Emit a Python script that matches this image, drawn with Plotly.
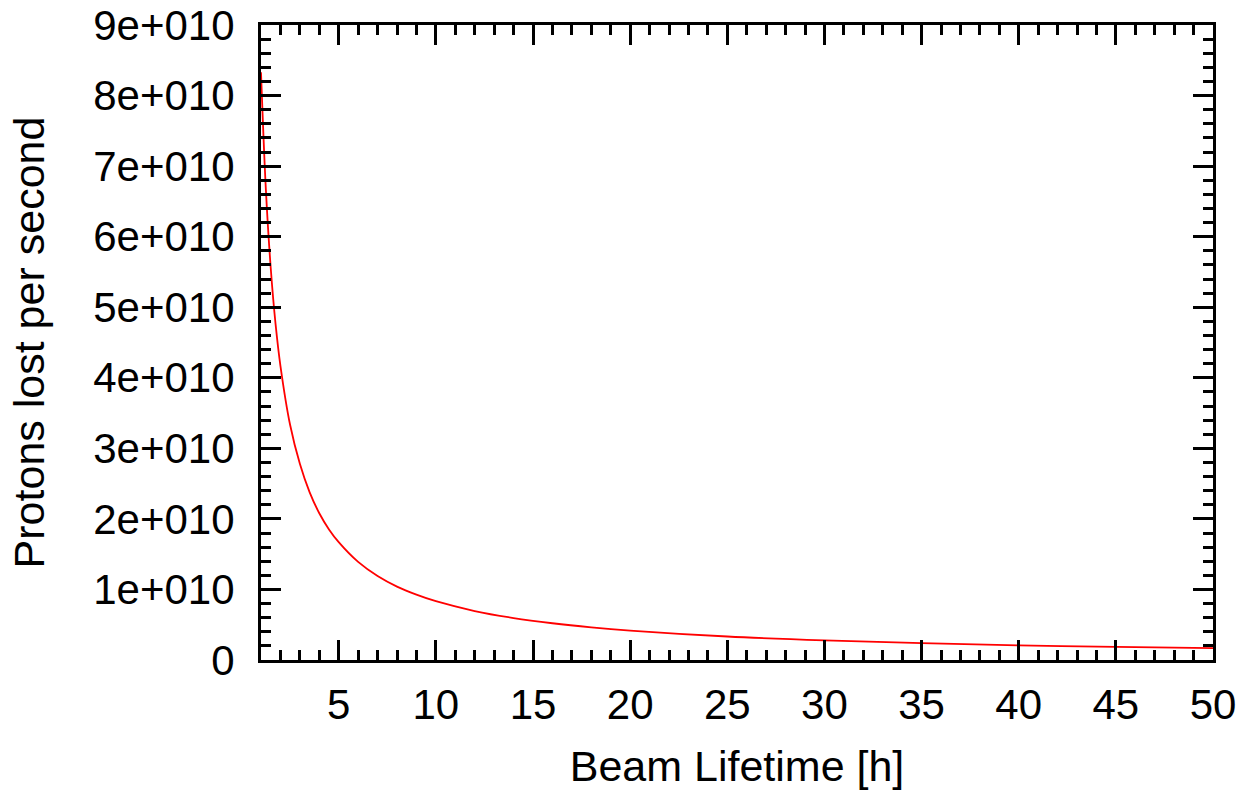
import plotly.graph_objects as go

# Beam lifetime [h] and protons lost per second
lifetime_h = [1, 1.25, 1.5, 1.75, 2, 2.5, 3, 3.5, 4, 4.5, 5, 6, 7, 8, 9, 10,
              12, 14, 16, 18, 20, 25, 30, 35, 40, 45, 50]
protons_lost = [8.33e10, 6.67e10, 5.56e10, 4.76e10, 4.17e10, 3.33e10, 2.78e10,
                2.38e10, 2.08e10, 1.85e10, 1.67e10, 1.39e10, 1.19e10, 1.04e10,
                9.26e9, 8.33e9, 6.94e9, 5.95e9, 5.21e9, 4.63e9, 4.17e9, 3.33e9,
                2.78e9, 2.38e9, 2.08e9, 1.85e9, 1.67e9]

x_tickvals = [5, 10, 15, 20, 25, 30, 35, 40, 45, 50]
y_tickvals = [0, 1e10, 2e10, 3e10, 4e10, 5e10, 6e10, 7e10, 8e10, 9e10]
y_ticktext = ["0", "1e+010", "2e+010", "3e+010", "4e+010", "5e+010",
              "6e+010", "7e+010", "8e+010", "9e+010"]

FONT = "Liberation Sans, Arial, sans-serif"

fig = go.Figure()
fig.add_trace(go.Scatter(
    x=lifetime_h, y=protons_lost, mode="lines",
    line=dict(color="#ff0000", width=1.8, shape="spline"),
    showlegend=False, hoverinfo="skip",
))

axis_common = dict(
    showline=True, linecolor="black", linewidth=3, mirror="ticks",
    ticks="inside", ticklen=20, tickwidth=2.5, tickcolor="black",
    showgrid=False, zeroline=False,
    tickfont=dict(family=FONT, size=42, color="black"),
)

fig.update_xaxes(
    range=[1, 50], tickmode="array", tickvals=x_tickvals,
    ticktext=[str(v) for v in x_tickvals],
    minor=dict(ticks="inside", ticklen=10, tickwidth=2.5, tickcolor="black",
               tick0=0, dtick=1, showgrid=False),
    title=dict(text="Beam Lifetime [h]", font=dict(family=FONT, size=43, color="black"),
               standoff=24),
    ticklabelstandoff=6,
    **axis_common,
)
fig.update_yaxes(
    range=[0, 9e10], tickmode="array", tickvals=y_tickvals, ticktext=y_ticktext,
    minor=dict(ticks="inside", ticklen=10, tickwidth=2.5, tickcolor="black",
               tick0=0, dtick=2e9, showgrid=False),
    title=dict(text="Protons lost per second", font=dict(family=FONT, size=43, color="black"),
               standoff=36),
    ticklabelstandoff=15,
    **axis_common,
)

fig.update_layout(
    width=1240, height=790,
    margin=dict(l=261, r=27, t=25, b=130, autoexpand=False),
    paper_bgcolor="white", plot_bgcolor="white",
)

fig.write_html("out.html", config={"displayModeBar": False})
